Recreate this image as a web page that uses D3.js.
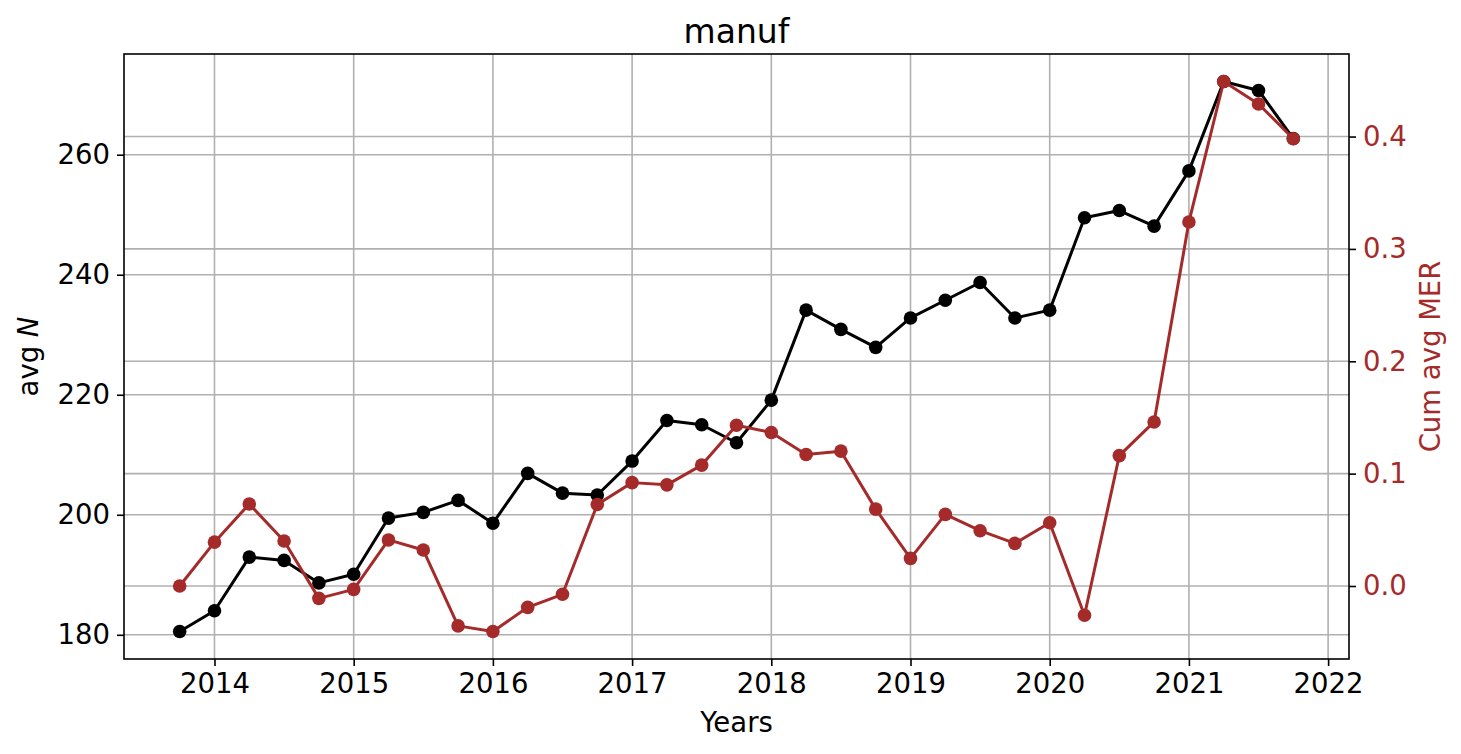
<!DOCTYPE html>
<html>
<head>
<meta charset="utf-8">
<script src="https://cdn.jsdelivr.net/npm/d3@7"></script>
<style>
  body { margin: 0; background: #fff; }
  svg { display: block; font-family: "DejaVu Sans", sans-serif; }
</style>
</head>
<body>
<svg id="chart" width="1461" height="754"></svg>
<script>
// quarterly dates, 2013 Q4 .. 2021 Q4
var quarters = d3.range(33).map(function(i) { return 2013.75 + i * 0.25; });

// avg N (left axis)
var avgN = [
  180.55, 184.0, 192.95, 192.4, 188.65, 190.1, 199.45, 200.4, 202.4, 198.6,
  206.9, 203.6, 203.3, 208.95, 215.7, 215.0, 212.0, 219.1, 234.1, 230.9,
  227.9, 232.8, 235.75, 238.7, 232.8, 234.1, 249.5, 250.7, 248.1, 257.3,
  272.2, 270.7, 262.7
];

// cumulative avg MER (right axis)
var cumMER = [
  0.0, 0.039, 0.073, 0.040, -0.011, -0.003, 0.041, 0.032, -0.0355, -0.0405,
  -0.019, -0.0074, 0.0725, 0.092, 0.090, 0.1076, 0.1431, 0.1366, 0.117, 0.120,
  0.0684, 0.0246, 0.0637, 0.0492, 0.0379, 0.0563, -0.026, 0.116, 0.146, 0.324,
  0.449, 0.429, 0.398
];

var xTicks = d3.range(2014, 2023);
var leftTicks = [180, 200, 220, 240, 260];
var rightTicks = [0.0, 0.1, 0.2, 0.3, 0.4];

var W = 1461, H = 754;
var margin = { top: 54, right: 112, bottom: 95, left: 124 };
var iw = W - margin.left - margin.right,
    ih = H - margin.top - margin.bottom;

var red = '#a52a2a', grid = '#b0b0b0';

// matplotlib-like 5% padding
function padded(arr) {
  var e = d3.extent(arr), p = (e[1] - e[0]) * 0.05;
  return [e[0] - p, e[1] + p];
}

var x = d3.scaleLinear().domain(padded(quarters)).range([0, iw]);
var yL = d3.scaleLinear().domain(padded(avgN)).range([ih, 0]);
var yR = d3.scaleLinear().domain(padded(cumMER)).range([ih, 0]);

var svg = d3.select('#chart');
var g = svg.append('g').attr('transform', 'translate(' + margin.left + ',' + margin.top + ')');

// grids
var gridG = g.append('g').attr('class', 'grid')
  .attr('stroke', grid).attr('stroke-width', 1.6);
gridG.selectAll('line.gx').data(xTicks).enter().append('line')
  .attr('x1', x).attr('x2', x).attr('y1', 0).attr('y2', ih);
gridG.selectAll('line.gl').data(leftTicks).enter().append('line')
  .attr('x1', 0).attr('x2', iw).attr('y1', yL).attr('y2', yL);
gridG.selectAll('line.gr').data(rightTicks).enter().append('line')
  .attr('x1', 0).attr('x2', iw).attr('y1', yR).attr('y2', yR);

function series(vals, scale, color) {
  var pts = quarters.map(function(q, i) { return [q, vals[i]]; });
  var s = g.append('g');
  s.append('path').datum(pts)
    .attr('fill', 'none').attr('stroke', color).attr('stroke-width', 3)
    .attr('stroke-linejoin', 'round')
    .attr('d', d3.line().x(function(d) { return x(d[0]); }).y(function(d) { return scale(d[1]); }));
  s.selectAll('circle').data(pts).enter().append('circle')
    .attr('cx', function(d) { return x(d[0]); })
    .attr('cy', function(d) { return scale(d[1]); })
    .attr('r', 6.8).attr('fill', color);
}
series(avgN, yL, '#000');
series(cumMER, yR, red);

// axes
function styleAxis(sel, color) {
  sel.select('.domain').remove();
  sel.selectAll('.tick line').attr('stroke', '#000').attr('stroke-width', 1.6);
  sel.selectAll('.tick text').attr('fill', color)
    .style('font-family', '"DejaVu Sans", sans-serif').style('font-size', '27.5px');
}

var ax = g.append('g').attr('transform', 'translate(0,' + ih + ')')
  .call(d3.axisBottom(x).tickValues(xTicks).tickFormat(d3.format('d')).tickSize(7).tickPadding(7));
styleAxis(ax, '#000');

var al = g.append('g')
  .call(d3.axisLeft(yL).tickValues(leftTicks).tickFormat(d3.format('d')).tickSize(7).tickPadding(7));
styleAxis(al, '#000');

var ar = g.append('g').attr('transform', 'translate(' + iw + ',0)')
  .call(d3.axisRight(yR).tickValues(rightTicks).tickFormat(d3.format('.1f')).tickSize(7).tickPadding(7));
styleAxis(ar, red);

// frame
g.append('rect').attr('width', iw).attr('height', ih)
  .attr('fill', 'none').attr('stroke', '#000').attr('stroke-width', 1.6);

// labels
svg.append('text').attr('x', margin.left + iw / 2).attr('y', 43)
  .attr('text-anchor', 'middle').style('font-size', '33px').text('manuf');

svg.append('text').attr('x', margin.left + iw / 2).attr('y', 732)
  .attr('text-anchor', 'middle').style('font-size', '27.5px').text('Years');

var ly = svg.append('text')
  .attr('transform', 'translate(38,' + (margin.top + ih / 2) + ') rotate(-90)')
  .attr('text-anchor', 'middle').style('font-size', '27.5px');
ly.append('tspan').text('avg ');
ly.append('tspan').style('font-style', 'italic').text('N');

svg.append('text')
  .attr('transform', 'translate(1440,' + (margin.top + ih / 2) + ') rotate(-90)')
  .attr('text-anchor', 'middle').attr('fill', red).style('font-size', '27.5px')
  .text('Cum avg MER');
</script>
</body>
</html>
